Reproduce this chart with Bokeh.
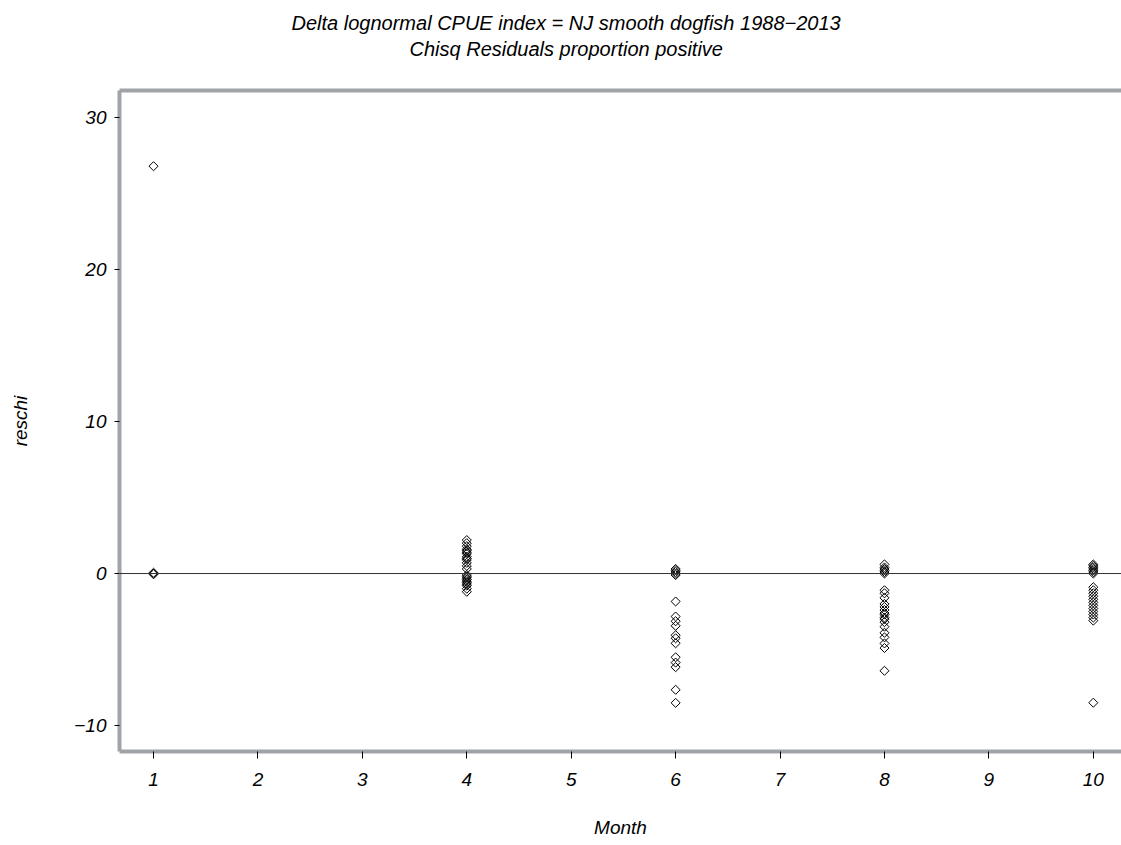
import math
from bokeh.plotting import figure
from bokeh.models import Range1d, LinearAxis, Span, Title, FixedTicker
from bokeh.embed import file_html
from bokeh.resources import INLINE

title_line1 = "Delta lognormal CPUE index = NJ smooth dogfish 1988\u22122013"
title_line2 = "Chisq Residuals proportion positive"
x_label = "Month"
y_label = "reschi"

x_ticks = [1, 2, 3, 4, 5, 6, 7, 8, 9, 10]
y_ticks = [-10, 0, 10, 20, 30]

month1 = [26.8, 0.05, 0.0, -0.05]
month4 = [2.2, 2.0, 1.8, 1.6, 1.5, 1.4, 1.3, 1.1, 1.0, 0.9, 0.7, 0.5, 0.3,
          -0.1, -0.2, -0.3, -0.4, -0.5, -0.6, -0.7, -0.8, -1.0, -1.2]
month6 = [0.3, 0.2, 0.1, 0.0, -0.1,
          -1.84, -2.83, -3.14, -3.44, -4.06, -4.26, -4.59, -5.51, -5.86, -6.16, -7.65, -8.51]
month8 = [0.6, 0.4, 0.3, 0.2, 0.1, 0.0,
          -1.1, -1.3, -1.6, -2.0, -2.2, -2.4, -2.6, -2.7, -2.9, -3.0, -3.2, -3.5,
          -3.9, -4.2, -4.6, -4.9, -6.4]
month10 = [0.6, 0.5, 0.4, 0.3, 0.2, 0.1, 0.0,
           -0.9, -1.1, -1.3, -1.5, -1.7, -1.9, -2.1, -2.3, -2.5, -2.7, -2.9, -3.1, -8.5]

groups = {1: month1, 4: month4, 6: month6, 8: month8, 10: month10}
xs, ys = [], []
for m, vals in groups.items():
    xs += [m] * len(vals)
    ys += vals

FONT = "Liberation Sans"
GREY = "#a0a4a8"

p = figure(width=1121, height=845, output_backend="svg", toolbar_location=None,
           x_range=Range1d(0.674, 10.27), y_range=Range1d(-11.71, 31.78),
           min_border_left=119, min_border_right=0, min_border_top=90, min_border_bottom=94,
           x_axis_location=None, y_axis_location=None)
p.outline_line_color = None
p.xgrid.visible = False
p.ygrid.visible = False
p.background_fill_color = "white"
p.border_fill_color = "white"

xaxis = LinearAxis(axis_label=x_label, ticker=FixedTicker(ticks=x_ticks))
yaxis = LinearAxis(axis_label=y_label, ticker=FixedTicker(ticks=y_ticks))
# top border drawn as an empty axis
top_axis = LinearAxis(ticker=FixedTicker(ticks=[]), major_tick_line_color=None,
                      minor_tick_line_color=None, major_label_standoff=0,
                      major_tick_out=0, major_tick_in=0,
                      axis_line_color=GREY, axis_line_width=4)

p.add_layout(yaxis, "left")
p.add_layout(xaxis, "below")
p.add_layout(top_axis, "above")

p.add_layout(Title(text=title_line2, align="left", offset=290, text_font=FONT,
                   text_font_style="italic", text_font_size="20px",
                   text_color="black", standoff=62), "above")
p.add_layout(Title(text=title_line1, align="left", offset=172, text_font=FONT,
                   text_font_style="italic", text_font_size="20px",
                   text_color="black", standoff=-58), "above")

for ax in (xaxis, yaxis):
    ax.axis_line_color = GREY
    ax.axis_line_width = 4
    ax.major_tick_line_color = "black"
    ax.major_tick_line_width = 1
    ax.major_tick_in = 0
    ax.minor_tick_line_color = None
    ax.major_label_text_font = FONT
    ax.major_label_text_font_style = "italic"
    ax.major_label_text_font_size = "19px"
    ax.major_label_text_color = "black"
    ax.axis_label_text_font = FONT
    ax.axis_label_text_font_style = "italic"
    ax.axis_label_text_font_size = "19px"
    ax.axis_label_text_color = "black"

xaxis.major_tick_out = 7
xaxis.major_label_standoff = 14
xaxis.axis_label_standoff = 28
yaxis.major_tick_out = 5
yaxis.major_label_standoff = 8
yaxis.axis_label_standoff = 40
yaxis.major_label_overrides = {-10: "\u221210"}

p.add_layout(Span(location=0, dimension="width", line_color="#333333", line_width=1))

p.scatter(xs, ys, marker="square", angle=math.pi / 4, size=6.4,
          fill_color=None, line_color="black", line_width=1)

open("out.html", "w").write(file_html(p, INLINE))
